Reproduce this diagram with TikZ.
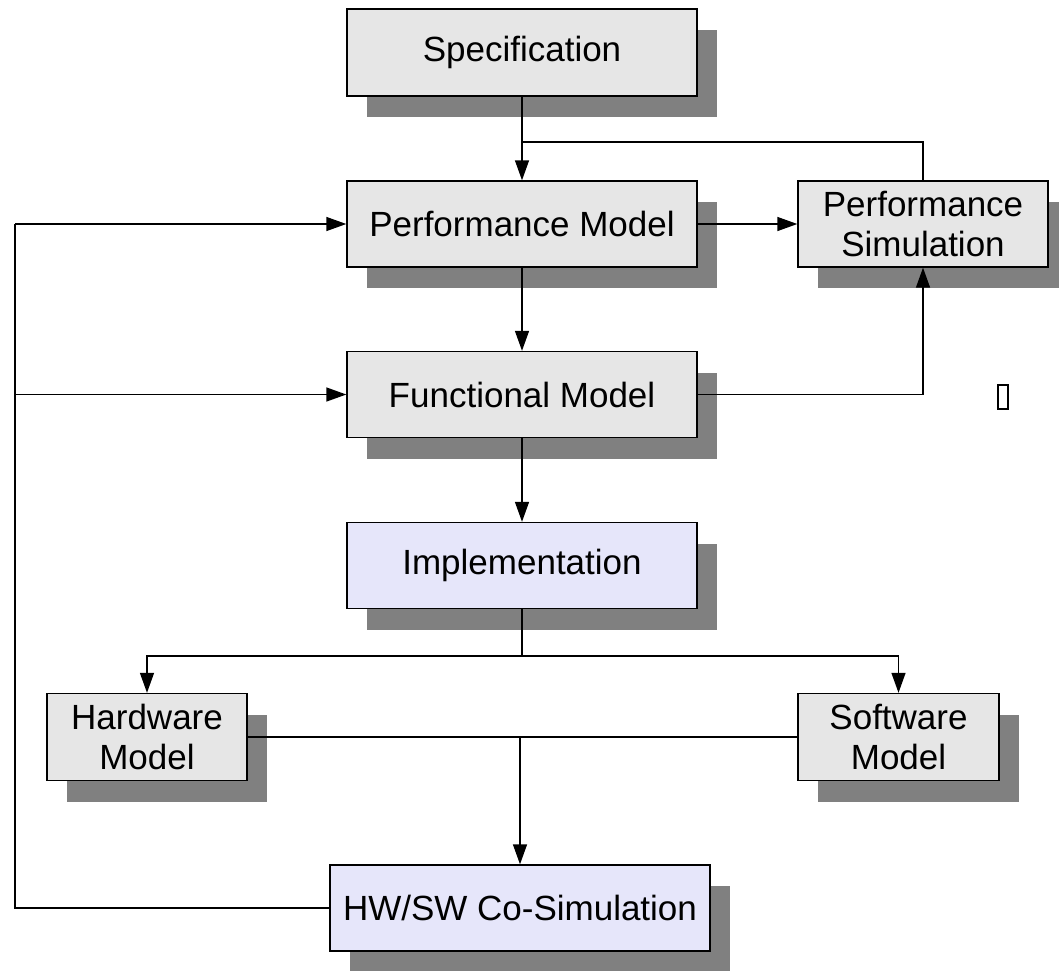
\documentclass[tikz,border=0pt]{standalone}
\usepackage{fontspec}
\setmainfont{Liberation Sans}
\usetikzlibrary{arrows.meta,shadows}

\definecolor{boxgray}{HTML}{E6E6E6}
\definecolor{boxlav}{HTML}{E6E6FA}
\definecolor{shadowgray}{HTML}{808080}

\tikzset{
  block/.style={draw=black, line width=1.4pt, fill=boxgray, align=center,
    inner sep=0pt, font=\fontsize{35}{40}\selectfont,
    drop shadow={shadow xshift=20pt, shadow yshift=-21pt, fill=shadowgray, opacity=1}},
  lavblock/.style={block, fill=boxlav},
  wire/.style={line width=1.4pt},
  arrowwire/.style={wire, -{Triangle[length=20pt,width=14pt]}},
}

\begin{document}
\begin{tikzpicture}[x=1pt,y=-1pt]
\useasboundingbox (0,0) rectangle (1059,970);

% process boxes
\node[block, minimum width=350pt, minimum height=87pt] (spec) at (522,52.5) {Specification};
\node[block, minimum width=350pt, minimum height=86pt] (perf) at (522,224) {Performance Model};
\node[block, minimum width=250pt, minimum height=86pt] (psim) at (923,224) {Performance\\Simulation};
\node[block, minimum width=350pt, minimum height=86pt] (func) at (522,394.5) {Functional Model};
\node[lavblock, minimum width=350pt, minimum height=86pt] (impl) at (522,565.5) {Implementation};
\node[block, minimum width=200pt, minimum height=87pt] (hw) at (147,737) {Hardware\\Model};
\node[block, minimum width=201pt, minimum height=87pt] (sw) at (898.5,737) {Software\\Model};
\node[lavblock, minimum width=380pt, minimum height=86pt] (cosim) at (520,908) {HW/SW Co-Simulation};

% stray glyph box to the right of the functional model
\node[draw=black, line width=1.6pt, minimum width=10pt, minimum height=24pt, inner sep=0pt] (glyph) at (1003,397) {};

% junction points
\coordinate (j1) at (perf.north |- 0,142);
\coordinate (j2) at (impl.south |- 0,656);
\coordinate (j3) at (520,737);
\coordinate (fb) at (15,0);

% specification and performance loop
\draw[arrowwire] (spec.south) -- (perf.north);
\draw[wire] (psim.north) |- (j1);
\draw[arrowwire] (perf.east) -- (psim.west);
\draw[arrowwire] (perf.south) -- (func.north);
\draw[arrowwire] (func.east) -| (psim.south);
\draw[arrowwire] (func.south) -- (impl.north);

% implementation split
\draw[wire] (impl.south) -- (j2);
\draw[arrowwire] (j2) -| (hw.north);
\draw[arrowwire] (j2) -| (sw.north);

% co-simulation merge
\draw[wire] (hw.east |- j3) -- (sw.west |- j3);
\draw[arrowwire] (j3) -- (j3 |- cosim.north);

% feedback from co-simulation
\draw[wire] (cosim.west) -| (fb |- perf.west);
\draw[arrowwire] (fb |- perf.west) -- (perf.west);
\draw[arrowwire] (fb |- func.west) -- (func.west);
\end{tikzpicture}
\end{document}
